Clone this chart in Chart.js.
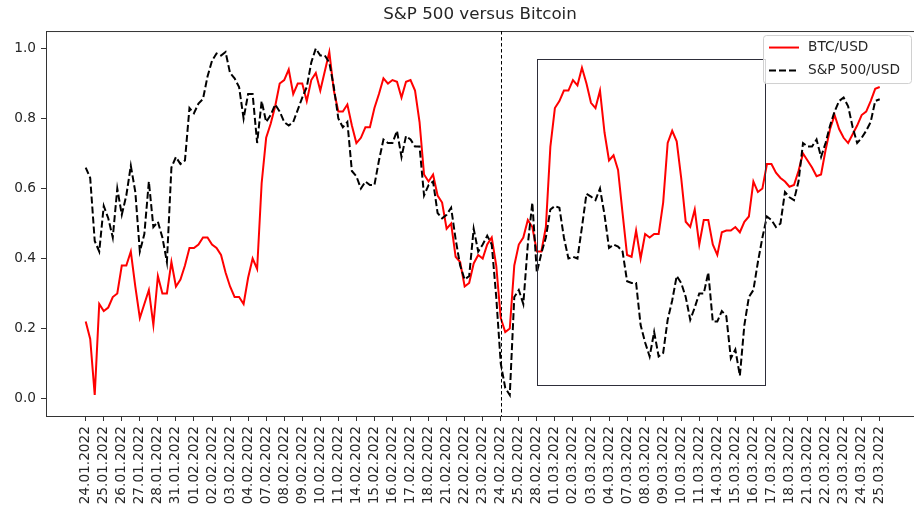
<!DOCTYPE html>
<html>
<head>
<meta charset="utf-8">
<script src="https://cdn.jsdelivr.net/npm/chart.js@4.4.1/dist/chart.umd.min.js"></script>
<style>
  html, body { margin: 0; padding: 0; background: #fff; overflow: hidden; }
  canvas { display: block; }
</style>
</head>
<body>
<canvas id="chart" width="914" height="513"></canvas>
<script>
// --- DATA --- //
// trading days on the x axis (one tick per day)
const dates = [
  "24.01.2022", "25.01.2022", "26.01.2022", "27.01.2022", "28.01.2022", "31.01.2022",
  "01.02.2022", "02.02.2022", "03.02.2022", "04.02.2022", "07.02.2022", "08.02.2022",
  "09.02.2022", "10.02.2022", "11.02.2022", "14.02.2022", "15.02.2022", "16.02.2022",
  "17.02.2022", "18.02.2022", "21.02.2022", "22.02.2022", "23.02.2022", "24.02.2022",
  "25.02.2022", "28.02.2022", "01.03.2022", "02.03.2022", "03.03.2022", "04.03.2022",
  "07.03.2022", "08.03.2022", "09.03.2022", "10.03.2022", "11.03.2022", "14.03.2022",
  "15.03.2022", "16.03.2022", "17.03.2022", "18.03.2022", "21.03.2022", "22.03.2022",
  "23.03.2022", "24.03.2022", "25.03.2022"
];

// samples per trading day in the two series below
const samplesPerDay = 4;

// normalised BTC/USD (0..1)
const btc = [
  0.22, 0.17, 0.01, 0.27, 0.25, 0.26, 0.29, 0.30, 0.38, 0.38,
  0.42, 0.32, 0.23, 0.27, 0.31, 0.21, 0.35, 0.30, 0.30, 0.39,
  0.32, 0.34, 0.38, 0.43, 0.43, 0.44, 0.46, 0.46, 0.44, 0.43,
  0.41, 0.36, 0.32, 0.29, 0.29, 0.27, 0.345, 0.40, 0.37, 0.615,
  0.745, 0.785, 0.835, 0.90, 0.91, 0.94, 0.87, 0.90, 0.90, 0.85,
  0.91, 0.93, 0.88, 0.935, 0.99, 0.88, 0.82, 0.82, 0.84, 0.78,
  0.73, 0.745, 0.775, 0.775, 0.83, 0.87, 0.915, 0.90, 0.91, 0.905,
  0.86, 0.905, 0.91, 0.88, 0.79, 0.64, 0.62, 0.64, 0.58, 0.56,
  0.485, 0.50, 0.405, 0.39, 0.32, 0.33, 0.386, 0.41, 0.40, 0.44,
  0.46, 0.38, 0.23, 0.19, 0.20, 0.38, 0.44, 0.46, 0.51, 0.49,
  0.42, 0.42, 0.49, 0.72, 0.83, 0.85, 0.88, 0.88, 0.91, 0.895,
  0.945, 0.90, 0.845, 0.83, 0.88, 0.76, 0.68, 0.695, 0.653, 0.53,
  0.41, 0.405, 0.48, 0.40, 0.47, 0.46, 0.47, 0.47, 0.56, 0.73,
  0.765, 0.735, 0.63, 0.505, 0.49, 0.54, 0.44, 0.51, 0.51, 0.44,
  0.41, 0.475, 0.48, 0.48, 0.49, 0.475, 0.505, 0.52, 0.62, 0.59,
  0.60, 0.67, 0.67, 0.645, 0.63, 0.62, 0.605, 0.61, 0.65, 0.70,
  0.68, 0.66, 0.635, 0.64, 0.71, 0.77, 0.81, 0.77, 0.745, 0.73,
  0.755, 0.78, 0.81, 0.82, 0.85, 0.885, 0.89
];

// normalised S&P 500 (0..1)
const spx = [
  0.66, 0.63, 0.45, 0.42, 0.55, 0.515, 0.46, 0.60, 0.525, 0.58,
  0.665, 0.59, 0.42, 0.47, 0.62, 0.49, 0.505, 0.46, 0.39, 0.66,
  0.69, 0.67, 0.68, 0.83, 0.815, 0.843, 0.856, 0.92, 0.965, 0.986,
  0.98, 0.99, 0.93, 0.915, 0.89, 0.80, 0.87, 0.87, 0.73, 0.85,
  0.79, 0.81, 0.84, 0.82, 0.79, 0.78, 0.79, 0.825, 0.86, 0.89,
  0.96, 1.0, 0.98, 0.98, 0.96, 0.89, 0.80, 0.775, 0.79, 0.65,
  0.635, 0.60, 0.62, 0.61, 0.61, 0.68, 0.74, 0.73, 0.73, 0.765,
  0.69, 0.75, 0.74, 0.72, 0.72, 0.58, 0.61, 0.62, 0.53, 0.515,
  0.525, 0.545, 0.455, 0.38, 0.34, 0.35, 0.485, 0.42, 0.44, 0.465,
  0.44, 0.29, 0.10, 0.03, 0.01, 0.29, 0.31, 0.27, 0.44, 0.56,
  0.36, 0.415, 0.46, 0.54, 0.55, 0.545, 0.46, 0.40, 0.405, 0.40,
  0.49, 0.585, 0.577, 0.567, 0.60, 0.525, 0.43, 0.44, 0.434, 0.42,
  0.335, 0.33, 0.33, 0.21, 0.16, 0.12, 0.19, 0.12, 0.13, 0.225,
  0.28, 0.35, 0.33, 0.29, 0.225, 0.26, 0.30, 0.30, 0.36, 0.22,
  0.22, 0.25, 0.235, 0.115, 0.14, 0.065, 0.21, 0.29, 0.31, 0.39,
  0.46, 0.52, 0.51, 0.49, 0.50, 0.59, 0.575, 0.567, 0.62, 0.73,
  0.72, 0.72, 0.74, 0.69, 0.73, 0.78, 0.82, 0.85, 0.86, 0.835,
  0.775, 0.73, 0.745, 0.765, 0.79, 0.85, 0.855
];

const yTicks = [0.0, 0.2, 0.4, 0.6, 0.8, 1.0];

// annotations (in data units: trading-day index / normalised value)
const invasionDay = 23;              // 24.02.2022
const boxDays = [25, 37.62];         // 28.02 .. 17.03
const boxValues = [0.04, 0.97];

const FONT = "'DejaVu Sans', 'Liberation Sans', sans-serif";
const TEXT = '#262626';
const SPINE = '#333333';

// --- ANOTASI & LEGENDA --- //
const overlay = {
  id: 'overlay',
  afterDatasetsDraw(chart) {
    const { ctx, chartArea: a, scales: { x, y } } = chart;
    ctx.save();

    // top spine (the right spine lies outside the cropped picture)
    ctx.strokeStyle = SPINE;
    ctx.lineWidth = 1;
    ctx.beginPath();
    ctx.moveTo(a.left, a.top + 0.5);
    ctx.lineTo(a.right, a.top + 0.5);
    ctx.stroke();

    // dashed vertical line
    const xi = Math.round(x.getPixelForValue(invasionDay)) + 0.5;
    ctx.strokeStyle = '#000';
    ctx.setLineDash([3.5, 2.5]);
    ctx.beginPath();
    ctx.moveTo(xi, a.top);
    ctx.lineTo(xi, a.bottom);
    ctx.stroke();
    ctx.setLineDash([]);

    // rectangle
    const x0 = Math.round(x.getPixelForValue(boxDays[0])) + 0.5;
    const x1 = Math.round(x.getPixelForValue(boxDays[1])) + 0.5;
    const y0 = Math.round(y.getPixelForValue(boxValues[1])) + 0.5;
    const y1 = Math.round(y.getPixelForValue(boxValues[0])) + 0.5;
    ctx.strokeStyle = '#2e2e3a';
    ctx.strokeRect(x0, y0, x1 - x0, y1 - y0);

    // legend box
    const lw = 148, lh = 48;
    const lx = a.right - 3 - lw, ly = a.top + 4;
    ctx.fillStyle = 'rgba(255,255,255,0.8)';
    ctx.strokeStyle = '#d0d0d0';
    ctx.beginPath();
    ctx.roundRect(lx + 0.5, ly + 0.5, lw, lh, 3);
    ctx.fill();
    ctx.stroke();

    ctx.font = '13.7px ' + FONT;
    ctx.textBaseline = 'middle';
    ctx.textAlign = 'left';
    chart.data.datasets.forEach((ds, i) => {
      const ry = ly + 12.5 + i * 23;
      ctx.strokeStyle = ds.borderColor;
      ctx.lineWidth = ds.borderWidth;
      ctx.setLineDash(ds.borderDash || []);
      ctx.beginPath();
      ctx.moveTo(lx + 6, ry);
      ctx.lineTo(lx + 36, ry);
      ctx.stroke();
      ctx.setLineDash([]);
      ctx.fillStyle = TEXT;
      ctx.fillText(ds.label, lx + 45, ry);
    });

    ctx.restore();
  }
};

// --- CHART --- //
const toPoints = arr => arr.map((v, i) => ({ x: i / samplesPerDay, y: v }));

new Chart(document.getElementById('chart'), {
  type: 'line',
  data: {
    datasets: [
      {
        label: 'BTC/USD',
        data: toPoints(btc),
        borderColor: '#ff0000',
        borderWidth: 2,
        pointRadius: 0,
        tension: 0,
        order: 1
      },
      {
        label: 'S&P 500/USD',
        data: toPoints(spx),
        borderColor: '#000000',
        borderWidth: 2,
        borderDash: [7, 3],
        pointRadius: 0,
        tension: 0,
        order: 0
      }
    ]
  },
  options: {
    responsive: false,
    animation: false,
    devicePixelRatio: 1,
    layout: { padding: 0 },
    plugins: {
      legend: { display: false },
      tooltip: { enabled: false },
      title: {
        display: true,
        text: 'S&P 500 versus Bitcoin',
        fullSize: false,
        color: TEXT,
        font: { family: FONT, size: 16.7, weight: 'normal' },
        padding: { top: 5, bottom: 6 }
      }
    },
    scales: {
      x: {
        type: 'linear',
        min: -2.2,
        max: 45.9,
        afterFit: s => { s.height = 97; s.paddingLeft = 0; s.paddingRight = 0; },
        afterBuildTicks: s => { s.ticks = dates.map((d, i) => ({ value: i })); },
        border: { display: true, color: SPINE, width: 1 },
        grid: { drawOnChartArea: false, drawTicks: true, tickLength: 5, tickColor: SPINE },
        ticks: {
          autoSkip: false,
          minRotation: 90,
          maxRotation: 90,
          padding: 5,
          color: TEXT,
          font: { family: FONT, size: 13.7 },
          callback: v => dates[v]
        }
      },
      y: {
        min: -0.05,
        max: 1.05,
        afterFit: s => { s.width = 46; s.paddingTop = 0; s.paddingBottom = 0; },
        afterBuildTicks: s => { s.ticks = yTicks.map(v => ({ value: v })); },
        border: { display: true, color: SPINE, width: 1 },
        grid: { drawOnChartArea: false, drawTicks: true, tickLength: 5, tickColor: SPINE },
        ticks: {
          padding: 5,
          color: TEXT,
          font: { family: FONT, size: 13.7 },
          callback: v => v.toFixed(1)
        }
      }
    }
  },
  plugins: [overlay]
});
</script>
</body>
</html>
